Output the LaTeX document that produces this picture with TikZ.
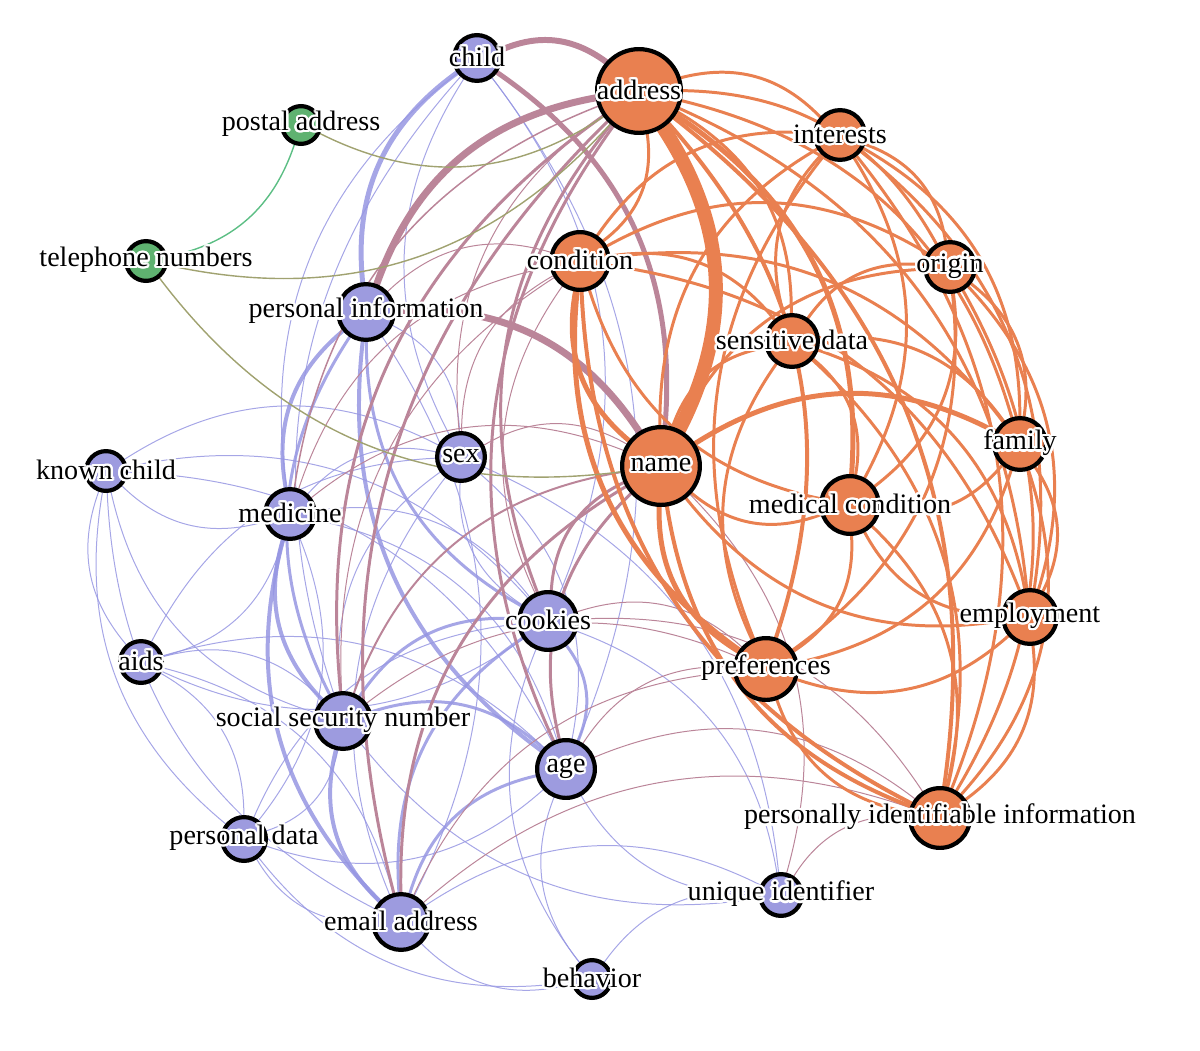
\documentclass[tikz,border=0pt]{standalone}
\usepackage{fontspec}
\setmainfont{Liberation Serif}
\usepackage{contour}
\contourlength{1.3pt}
\contournumber{24}
\usetikzlibrary{backgrounds}

\definecolor{orangefill}{RGB}{233,128,80}
\definecolor{bluefill}{RGB}{157,155,223}
\definecolor{greenfill}{RGB}{95,178,112}
\definecolor{orangeedge}{RGB}{233,128,80}
\definecolor{blueedge}{RGB}{150,150,226}
\definecolor{mauveedge}{RGB}{187,133,153}
\definecolor{oliveedge}{RGB}{160,162,112}
\definecolor{greenedge}{RGB}{92,190,132}

\newcommand\lbl[1]{\contour{white}{#1}}

\tikzset{
  base/.style={circle, draw=black, line width=2.4pt, inner sep=0pt},
  onode/.style={base, fill=orangefill},
  bnode/.style={base, fill=bluefill},
  gnode/.style={base, fill=greenfill},
  sz/.style={minimum size=#1*0.04cm-2.4pt},
  every label/.style={font=\fontsize{16}{18}\selectfont, inner sep=0pt},
  link/.style={line cap=round},
  oe/.style={link, draw=orangeedge},
  be/.style={link, draw=blueedge, opacity=0.85},
  me/.style={link, draw=mauveedge},
  ve/.style={link, draw=oliveedge},
  ge/.style={link, draw=greenedge}
}

\begin{document}
\begin{tikzpicture}[x=0.02cm, y=0.02cm]
  \useasboundingbox (0,0) rectangle (1200,-1051);

  % green terms
  \node[gnode, sz=21, label={center:\lbl{postal address}}] (pos) at (301,-125) {};
  \node[gnode, sz=22, label={center:\lbl{telephone numbers}}] (tel) at (146,-261) {};

  % blue terms
  \node[bnode, sz=25, label={center:\lbl{child}}] (chd) at (477,-58) {};
  \node[bnode, sz=30, label={center:\lbl{personal information}}] (pin) at (366,-312) {};
  \node[bnode, sz=26, label={center:\lbl{sex}}] (sex) at (461,-457) {};
  \node[bnode, sz=22, label={center:\lbl{known child}}] (kch) at (106,-471) {};
  \node[bnode, sz=27, label={center:\lbl{medicine}}] (mdc) at (290,-514) {};
  \node[bnode, sz=31, label={center:\lbl{cookies}}] (coo) at (548,-621) {};
  \node[bnode, sz=23, label={center:\lbl{aids}}] (aid) at (141,-662) {};
  \node[bnode, sz=30, label={center:\lbl{social security number}}] (ssn) at (343,-721) {};
  \node[bnode, sz=31, label={center:\lbl{age}}] (age) at (566,-769) {};
  \node[bnode, sz=24, label={center:\lbl{personal data}}] (pda) at (244,-839) {};
  \node[bnode, sz=23, label={center:\lbl{unique identifier}}] (uid) at (781,-895) {};
  \node[bnode, sz=30, label={center:\lbl{email address}}] (eml) at (401,-922) {};
  \node[bnode, sz=21, label={center:\lbl{behavior}}] (beh) at (592,-979) {};

  % orange terms
  \node[onode, sz=44, label={center:\lbl{address}}] (adr) at (639,-91) {};
  \node[onode, sz=27, label={center:\lbl{interests}}] (int) at (840,-135) {};
  \node[onode, sz=31, label={center:\lbl{condition}}] (cnd) at (580,-261) {};
  \node[onode, sz=27, label={center:\lbl{origin}}] (org) at (950,-267) {};
  \node[onode, sz=28, label={center:\lbl{sensitive data}}] (sen) at (792,-341) {};
  \node[onode, sz=28, label={center:\lbl{family}}] (fam) at (1020,-444) {};
  \node[onode, sz=41, label={center:\lbl{name}}] (nam) at (661,-466) {};
  \node[onode, sz=31, label={center:\lbl{medical condition}}] (med) at (850,-505) {};
  \node[onode, sz=29, label={center:\lbl{employment}}] (emp) at (1030,-617) {};
  \node[onode, sz=33, label={center:\lbl{preferences}}] (prf) at (766,-669) {};
  \node[onode, sz=32, label={center:\lbl{personally identifiable information}}] (pii) at (940,-818) {};

  \begin{pgfonlayer}{background}
    % blue -- blue
    \foreach \p/\q/\w in {pin/chd/5, mdc/pin/4, ssn/pin/3, age/pin/4, coo/pin/3,
        eml/mdc/4, ssn/mdc/4, eml/ssn/4, ssn/coo/3, ssn/age/3, eml/age/3,
        eml/coo/3, coo/age/3,
        sex/chd/1, mdc/chd/1, chd/coo/1, chd/age/1, ssn/chd/1,
        aid/kch/1, mdc/kch/1, ssn/kch/1, pda/kch/1, eml/kch/1, kch/coo/1,
        kch/age/1, kch/sex/1,
        mdc/aid/1, aid/ssn/1, coo/aid/1, aid/age/1, aid/pda/1, aid/eml/1, aid/sex/1,
        ssn/pda/1, mdc/pda/1, eml/pda/1, pda/coo/1, age/pda/1, beh/pda/1,
        beh/eml/1, beh/age/1, beh/uid/1, beh/coo/1,
        uid/age/1, coo/uid/1, uid/ssn/1, eml/uid/1, sex/uid/1,
        mdc/sex/1, ssn/sex/1, coo/sex/1, sex/age/1, eml/sex/1, pin/sex/1,
        mdc/coo/1, mdc/age/1, pin/eml/1}
      \draw[be, line width=\w*0.567pt] (\p) to[bend left=30] (\q);
    % blue -- orange
    \foreach \p/\q/\w in {chd/adr/6, chd/nam/5, pin/adr/7, pin/nam/7,
        ssn/adr/3, eml/adr/3, coo/adr/3, age/adr/3, eml/nam/3, coo/nam/3,
        age/nam/3, ssn/nam/2, mdc/nam/1, sex/nam/1, mdc/adr/1.5, sex/adr/1,
        sex/cnd/1, mdc/cnd/1, ssn/cnd/1, pin/cnd/1, coo/cnd/1,
        coo/prf/1, age/prf/1, ssn/prf/1, eml/prf/1,
        age/pii/1, eml/pii/1, uid/pii/1, coo/pii/1, nam/uid/1}
      \draw[me, line width=\w*0.567pt] (\p) to[bend left=30] (\q);
    % orange -- orange
    \foreach \p/\q/\w in {emp/med/3, emp/pii/3, emp/prf/3, emp/nam/3,
        med/pii/3, med/prf/3, med/nam/3, med/cnd/3,
        pii/prf/3, pii/nam/4, pii/cnd/4, adr/pii/4,
        prf/nam/5, prf/cnd/5, adr/prf/4, prf/sen/3, prf/int/3,
        nam/cnd/5, adr/nam/14, nam/sen/3, nam/int/3, nam/org/3, nam/fam/5,
        adr/cnd/3, cnd/sen/3, cnd/int/3, cnd/org/3, cnd/fam/3, cnd/emp/3,
        adr/sen/3, adr/int/3, adr/org/3, adr/fam/3, adr/emp/3, adr/med/5,
        sen/int/3, sen/org/3, sen/fam/3, sen/emp/3, sen/med/3, sen/pii/3,
        int/org/3, int/fam/3, int/emp/3, int/med/3, int/pii/3,
        org/fam/3, org/emp/3, org/med/3, org/pii/3, org/prf/3,
        fam/emp/3, fam/med/3, fam/pii/3, fam/prf/3}
      \draw[oe, line width=\w*0.567pt] (\p) to[bend left=30] (\q);
    % green links
    \draw[ge, line width=0.8pt] (pos) to[bend left=30] (tel);
    \draw[ve, line width=0.8pt] (adr) to[bend left=30] (pos);
    \draw[ve, line width=0.8pt] (adr) to[bend left=30] (tel);
    \draw[ve, line width=0.8pt] (nam) to[bend left=30] (tel);
  \end{pgfonlayer}
\end{tikzpicture}
\end{document}
